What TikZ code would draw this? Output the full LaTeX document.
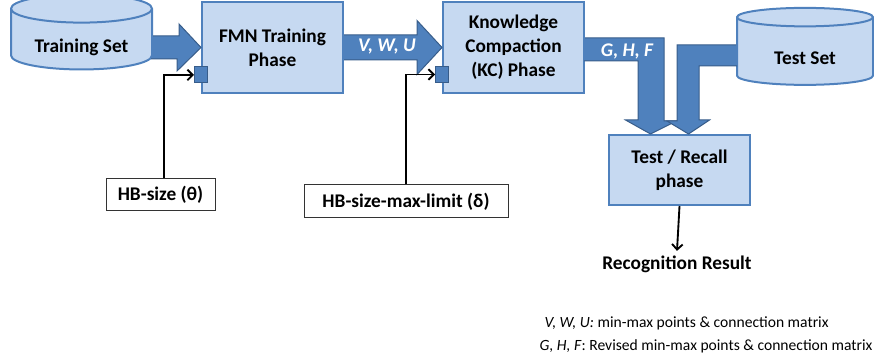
\documentclass[tikz,border=0pt]{standalone}
\usepackage{fontspec}
\setmainfont{Carlito}
\usetikzlibrary{positioning}
\usetikzlibrary{shapes.geometric,calc,arrows.meta}
\newcommand{\px}{0.75pt}
\newcommand{\BigFont}{\fontsize{14.5}{18}\selectfont\bfseries}
\newcommand{\NoteFont}{\fontsize{11.7}{12}\selectfont}
\definecolor{BoxFill}{RGB}{198, 217, 241}
\definecolor{BoxLine}{RGB}{79, 129, 189}
\definecolor{ArrowFill}{RGB}{79, 129, 189}
\definecolor{ArrowLine}{RGB}{56, 93, 138}

\begin{document}
\begin{tikzpicture}[x=\px,y=-\px,
  phase/.style={draw=BoxLine,fill=BoxFill,line width=1.5pt,align=center,font=\BigFont,inner sep=0pt},
  db/.style={cylinder,shape border rotate=90,aspect=0.3,draw=BoxLine,fill=BoxFill,line width=1.5pt,font=\BigFont,inner sep=0pt,text height=20pt,text depth=0pt},
  port/.style={draw=ArrowLine,fill=ArrowFill,line width=0.75pt,inner sep=0pt,minimum width=13*\px,minimum height=16*\px},
  param/.style={draw=black!80,line width=0.75pt,font=\BigFont,inner sep=0pt},
  fat/.style={draw=ArrowLine,fill=ArrowFill,line width=0.75pt,line join=miter},
  feed/.style={-{Straight Barb[length=4pt,width=8pt]},line width=1.4pt},
  tag/.style={font=\BigFont\itshape,text=white}]
  \useasboundingbox (0,0) rectangle (874,363);

  % Data sets
  \node[db,minimum width=141*\px,minimum height=75*\px] (train) at (81.5,39.5) {Training Set};
  \node[db,minimum width=136*\px,minimum height=77*\px] (test) at (805,51.5) {Test Set};

  % Phases
  \node[phase,minimum width=141*\px,minimum height=91*\px] (fmn) at (272.5,47.5) {FMN Training\\Phase};
  \node[phase,minimum width=141*\px,minimum height=91*\px] (kc) at (513.5,47.5) {Knowledge\\Compaction\\(KC) Phase};
  \node[phase,minimum width=141*\px,minimum height=70*\px] (recall) at (679.5,170) {Test / Recall\\phase};

  % Big arrows
  \draw[fat] ($(train.east |- fmn.west)+(0,-11.5)$) -- ++(26,0) -- ++(0,-12) -- (fmn.west) -- ++(-24,23.5) -- ++(0,-12) -- ++(-26,0);
  \draw[fat] ($(fmn.east)+(0,-12.5)$) -- ($(kc.west)+(-25,-12.5)$) -- ++(0,-14.5) -- (kc.west) -- ++(-25,27) -- ++(0,-14.5) -- ($(fmn.east)+(0,12.5)$);
  \draw[fat] ($(kc.east)+(0,-9.5)$) -- ++(79,0) -- ++(0,83) -- ++(12.5,0) -- ($(recall.north)+(-29,0)$) -- ++(-25,-14) -- ++(12.5,0) -- ++(0,-59) -- ++(-54,0);
  \draw[fat] ($(test.west)+(0,-6.5)$) -- ++(-59,0) -- ++(0,76) -- ++(-10,0) -- ($(recall.north)+(9,0)$) -- ++(21,-14) -- ++(-10.5,0) -- ++(0,-54) -- ++(38,0);
  \node[tag] (vwu) at (387,47) {V, W, U};
  \node[tag] (ghf) at ($(kc.east)+(42,4)$) {G, H, F};

  % Parameter inputs
  \node[port] (fmnport) at ($(fmn.west)+(0,27.5)$) {};
  \node[port] (kcport) at ($(kc.west)+(0,27)$) {};
  \node[param,minimum width=109*\px,minimum height=32*\px] (theta) at (160.5,195) {HB-size (θ)};
  \node[param,minimum width=204*\px,minimum height=33*\px] (delta) at (406,201.5) {HB-size-max-limit (δ)};
  \draw[feed] ($(theta.north)+(3.5,0)$) |- (fmnport.west);
  \draw[feed] (delta.north) |- (kcport.west);

  % Output
  \node[font=\BigFont] (result) at (677,264) {Recognition Result};
  \draw[feed] (recall.south) -- (result.north);

  % Notes
  \node[anchor=west,font=\NoteFont] (note1) at (540,323) {\textit{V, W, U:} min-max points \& connection matrix};
  \node[anchor=west,font=\NoteFont] (note2) at (535,346) {\textit{G, H, F}: Revised min-max points \& connection matrix};
\end{tikzpicture}
\end{document}
